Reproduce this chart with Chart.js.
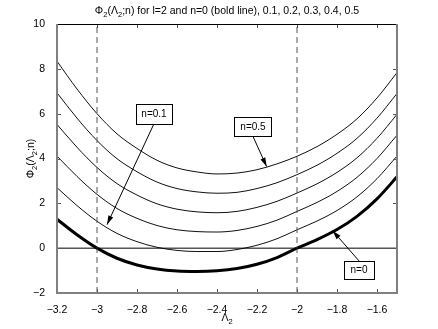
<!DOCTYPE html>
<html>
<head>
<meta charset="utf-8">
<script src="https://cdn.jsdelivr.net/npm/chart.js@4/dist/chart.umd.min.js"></script>
<style>
  html, body { margin: 0; padding: 0; background: #fff; }
</style>
</head>
<body>
<canvas id="chart" width="438" height="329"></canvas>
<script>
// values
var lambda2 = [-3.2, -3.1, -3.0, -2.9, -2.8, -2.7, -2.6, -2.5, -2.4, -2.3, -2.2, -2.1, -2.0, -1.9, -1.8, -1.7, -1.6, -1.5];
var phiN0  = [1.29, 0.60, 0.00, -0.45, -0.75, -0.93, -1.02, -1.04, -1.01, -0.91, -0.72, -0.42, 0.00, 0.38, 0.83, 1.42, 2.20, 3.18];
var phiN01 = [2.70, 1.90, 1.20, 0.66, 0.29, 0.04, -0.10, -0.15, -0.15, -0.06, 0.13, 0.42, 0.82, 1.21, 1.68, 2.29, 3.10, 4.11];
var phiN02 = [4.11, 3.20, 2.40, 1.77, 1.33, 1.01, 0.82, 0.74, 0.72, 0.79, 0.97, 1.25, 1.64, 2.04, 2.53, 3.16, 4.00, 5.04];
var phiN03 = [5.52, 4.50, 3.60, 2.88, 2.37, 1.98, 1.74, 1.62, 1.58, 1.64, 1.82, 2.09, 2.46, 2.87, 3.38, 4.03, 4.90, 5.97];
var phiN04 = [6.93, 5.80, 4.80, 3.99, 3.41, 2.95, 2.66, 2.51, 2.45, 2.49, 2.66, 2.92, 3.28, 3.70, 4.23, 4.90, 5.80, 6.90];
var phiN05 = [8.34, 7.10, 6.00, 5.10, 4.45, 3.92, 3.58, 3.40, 3.31, 3.35, 3.50, 3.76, 4.10, 4.53, 5.08, 5.77, 6.70, 7.83];

var xRange = [-3.2, -1.5];
var yRange = [-2, 10];
var xTicks = [-3.2, -3, -2.8, -2.6, -2.4, -2.2, -2, -1.8, -1.6];
var yTicks = [-2, 0, 2, 4, 6, 8, 10];
var dashedAt = [-3, -2];

var FONT = '"Liberation Sans", Arial, Helvetica, sans-serif';

function pts(ys) {
  return lambda2.map(function (x, i) { return { x: x, y: ys[i] }; });
}
function fmt(v) {
  return String(Math.round(v * 10) / 10).replace('-', '\u2212');
}

var thin = [phiN01, phiN02, phiN03, phiN04, phiN05];
var datasets = [];

datasets.push({ data: [{ x: xRange[0], y: 0 }, { x: xRange[1], y: 0 }], borderColor: '#000', borderWidth: 1 });
dashedAt.forEach(function (x) {
  datasets.push({ data: [{ x: x, y: yRange[0] }, { x: x, y: yRange[1] }], borderColor: '#555', borderWidth: 1, borderDash: [6, 4] });
});
thin.forEach(function (ys) {
  datasets.push({ data: pts(ys), borderColor: '#111', borderWidth: 1, cubicInterpolationMode: 'monotone' });
});
datasets.push({ data: pts(phiN0), borderColor: '#000', borderWidth: 3, cubicInterpolationMode: 'monotone' });

// text arrows: box centre and arrow tip in data units
var notes = [
  { text: 'n=0.1', at: [-2.715, 6.0], w: 36, h: 20, from: 'bottom', tip: [-2.95, 1.05] },
  { text: 'n=0.5', at: [-2.22, 5.41], w: 37, h: 19, from: 'bottom', tip: [-2.152, 3.64] },
  { text: 'n=0',   at: [-1.69, -0.97], w: 30, h: 18, from: 'top', tip: [-1.822, 0.78] }
];

function rich(ctx, parts, x, y, size) {
  var w = 0;
  parts.forEach(function (p) {
    ctx.font = (p[1] ? size * 0.72 : size) + 'px ' + FONT;
    w += ctx.measureText(p[0]).width;
  });
  var sx = x - w / 2;
  parts.forEach(function (p) {
    ctx.font = (p[1] ? size * 0.72 : size) + 'px ' + FONT;
    ctx.fillText(p[0], sx, y + (p[1] ? size * 0.3 : 0));
    sx += ctx.measureText(p[0]).width;
  });
}

var decor = {
  id: 'decor',
  afterDatasetsDraw: function (chart) {
    var ctx = chart.ctx, a = chart.chartArea;
    var xs = chart.scales.x, ys = chart.scales.y;
    ctx.save();

    // inward ticks on all four sides
    ctx.strokeStyle = '#555';
    ctx.lineWidth = 1;
    ctx.beginPath();
    xTicks.forEach(function (v) {
      var px = Math.round(xs.getPixelForValue(v)) + 0.5;
      ctx.moveTo(px, a.bottom); ctx.lineTo(px, a.bottom - 4);
      ctx.moveTo(px, a.top); ctx.lineTo(px, a.top + 4);
    });
    yTicks.forEach(function (v) {
      var py = Math.round(ys.getPixelForValue(v)) + 0.5;
      ctx.moveTo(a.left, py); ctx.lineTo(a.left + 4, py);
      ctx.moveTo(a.right, py); ctx.lineTo(a.right - 4, py);
    });
    ctx.stroke();

    // box
    ctx.strokeStyle = '#000';
    ctx.beginPath();
    ctx.moveTo(a.left, a.top + 0.5); ctx.lineTo(a.right, a.top + 0.5);
    ctx.stroke();
    ctx.strokeStyle = '#808080';
    ctx.lineWidth = 2;
    ctx.beginPath();
    ctx.moveTo(a.left, a.top); ctx.lineTo(a.left, a.bottom);
    ctx.lineTo(a.right, a.bottom); ctx.lineTo(a.right, a.top);
    ctx.stroke();

    // annotations
    notes.forEach(function (n) {
      var cx = xs.getPixelForValue(n.at[0]), cy = ys.getPixelForValue(n.at[1]);
      var tx = xs.getPixelForValue(n.tip[0]), ty = ys.getPixelForValue(n.tip[1]);
      var sx = cx, sy = n.from === 'bottom' ? cy + n.h / 2 : cy - n.h / 2;
      ctx.strokeStyle = '#000';
      ctx.fillStyle = '#000';
      ctx.lineWidth = 1;
      ctx.beginPath();
      ctx.moveTo(sx, sy); ctx.lineTo(tx, ty);
      ctx.stroke();
      var ang = Math.atan2(ty - sy, tx - sx), L = 9, W = 2.6;
      ctx.beginPath();
      ctx.moveTo(tx, ty);
      ctx.lineTo(tx - L * Math.cos(ang) + W * Math.sin(ang), ty - L * Math.sin(ang) - W * Math.cos(ang));
      ctx.lineTo(tx - L * Math.cos(ang) - W * Math.sin(ang), ty - L * Math.sin(ang) + W * Math.cos(ang));
      ctx.closePath();
      ctx.fill();
      var bx = Math.round(cx - n.w / 2) + 0.5, by = Math.round(cy - n.h / 2) + 0.5;
      ctx.fillStyle = '#fff';
      ctx.fillRect(bx, by, n.w, n.h);
      ctx.strokeRect(bx, by, n.w, n.h);
      ctx.fillStyle = '#000';
      ctx.font = '10px ' + FONT;
      ctx.textAlign = 'center';
      ctx.textBaseline = 'middle';
      ctx.fillText(n.text, cx, cy + 0.5);
    });

    // title and axis labels
    ctx.fillStyle = '#000';
    ctx.textAlign = 'left';
    ctx.textBaseline = 'alphabetic';
    var mid = (a.left + a.right) / 2;
    rich(ctx, [['\u03A6'], ['2', 1], ['(\u039B'], ['2', 1], [';n) for l=2 and n=0 (bold line), 0.1, 0.2, 0.3, 0.4, 0.5']], mid, 14, 10.5);
    rich(ctx, [['\u039B'], ['2', 1]], mid, 321, 10.5);
    ctx.translate(34, (a.top + a.bottom) / 2);
    ctx.rotate(-Math.PI / 2);
    rich(ctx, [['\u03A6'], ['2', 1], ['(\u039B'], ['2', 1], [';n)']], 0, 0, 10.5);
    ctx.restore();
  }
};

new Chart(document.getElementById('chart'), {
  type: 'line',
  data: { datasets: datasets },
  options: {
    responsive: false,
    animation: false,
    devicePixelRatio: 1,
    layout: { padding: { top: 24, right: 41, left: 0, bottom: 0 } },
    elements: { point: { radius: 0 } },
    plugins: { legend: { display: false }, tooltip: { enabled: false } },
    scales: {
      x: {
        type: 'linear', min: xRange[0], max: xRange[1],
        grid: { display: false }, border: { display: false },
        afterBuildTicks: function (s) { s.ticks = xTicks.map(function (v) { return { value: v }; }); },
        afterFit: function (s) { s.height = 36; },
        ticks: { padding: 3, color: '#000', maxRotation: 0, autoSkip: false, font: { family: FONT, size: 10.5 }, callback: fmt }
      },
      y: {
        type: 'linear', min: yRange[0], max: yRange[1],
        grid: { display: false }, border: { display: false },
        afterBuildTicks: function (s) { s.ticks = yTicks.map(function (v) { return { value: v }; }); },
        afterFit: function (s) { s.width = 57; },
        ticks: { padding: 4, color: '#000', autoSkip: false, font: { family: FONT, size: 10.5 }, callback: fmt }
      }
    }
  },
  plugins: [decor]
});
</script>
</body>
</html>
